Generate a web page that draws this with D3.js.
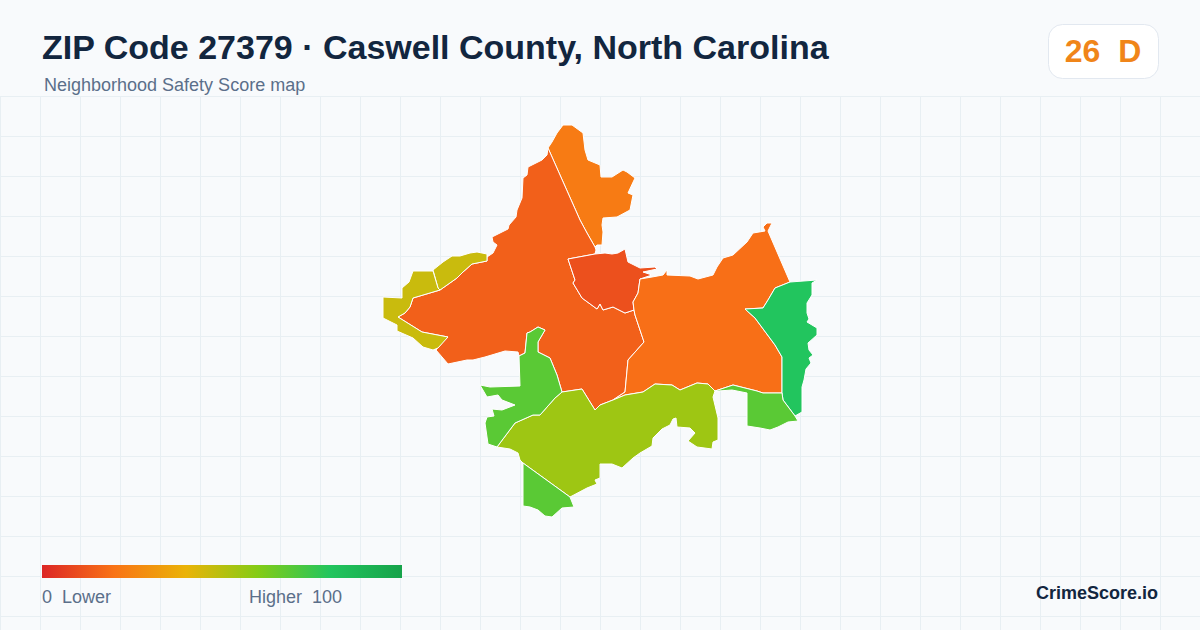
<!DOCTYPE html>
<html>
<head>
<meta charset="utf-8">
<style>
  html, body { margin: 0; padding: 0; background: #f8fafc; }
  svg { display: block; font-family: "Liberation Sans", Arial, sans-serif; }
</style>
<script src="https://cdn.jsdelivr.net/npm/d3@7"></script>
</head>
<body>
<div id="map"></div>
<script>
const titleText = 'ZIP Code 27379 · Caswell County, North Carolina'
const subtitleText = 'Neighborhood Safety Score map'
const overallScore = 26
const overallGrade = 'D'

// legend ramp
const legendStops = [0, 20, 40, 60, 80, 100]
const legendColors = ['#dc2626', '#f97316', '#eab308', '#84cc16', '#22c55e', '#16a34a']

// tract scores, same order as tractRings
const tractScores = [22.5, 15, 11, 19, 80, 68.5, 55, 68.5, 68.5, 46.5, 46.5]

// tract outlines as [lon, lat]
const tractRings = [
  // north
  [[-79.452,36.552],[-79.448,36.558],[-79.443,36.567],[-79.437,36.575],[-79.428,36.575],[-79.417,36.567],[-79.415,36.550],[-79.412,36.540],[-79.400,36.535],[-79.399,36.523],[-79.388,36.523],[-79.377,36.530],[-79.373,36.528],[-79.365,36.522],[-79.372,36.507],[-79.367,36.505],[-79.370,36.490],[-79.383,36.483],[-79.397,36.482],[-79.398,36.475],[-79.397,36.468],[-79.398,36.455],[-79.403,36.455],[-79.405,36.453],[-79.413,36.467],[-79.420,36.480]],
  // main west
  [[-79.452,36.552],[-79.453,36.545],[-79.458,36.540],[-79.472,36.533],[-79.473,36.525],[-79.477,36.522],[-79.478,36.502],[-79.483,36.490],[-79.484,36.483],[-79.491,36.475],[-79.492,36.471],[-79.498,36.468],[-79.508,36.463],[-79.507,36.458],[-79.503,36.455],[-79.507,36.447],[-79.513,36.443],[-79.513,36.439],[-79.528,36.436],[-79.537,36.428],[-79.543,36.422],[-79.560,36.410],[-79.587,36.402],[-79.590,36.393],[-79.595,36.387],[-79.602,36.383],[-79.578,36.368],[-79.552,36.363],[-79.558,36.357],[-79.564,36.350],[-79.552,36.336],[-79.533,36.340],[-79.527,36.340],[-79.515,36.343],[-79.495,36.349],[-79.482,36.348],[-79.481,36.344],[-79.475,36.347],[-79.473,36.367],[-79.470,36.368],[-79.462,36.373],[-79.455,36.370],[-79.462,36.358],[-79.462,36.348],[-79.450,36.342],[-79.443,36.325],[-79.438,36.308],[-79.418,36.311],[-79.405,36.290],[-79.400,36.295],[-79.387,36.300],[-79.375,36.308],[-79.372,36.340],[-79.356,36.358],[-79.365,36.385],[-79.366,36.390],[-79.375,36.387],[-79.387,36.393],[-79.397,36.390],[-79.400,36.396],[-79.403,36.391],[-79.418,36.402],[-79.427,36.417],[-79.425,36.420],[-79.432,36.441],[-79.405,36.446],[-79.404,36.450],[-79.405,36.453],[-79.413,36.467],[-79.420,36.480]],
  // center
  [[-79.432,36.441],[-79.405,36.446],[-79.395,36.447],[-79.388,36.446],[-79.382,36.447],[-79.375,36.451],[-79.372,36.438],[-79.360,36.432],[-79.345,36.433],[-79.343,36.431],[-79.357,36.428],[-79.348,36.425],[-79.360,36.421],[-79.362,36.407],[-79.367,36.398],[-79.366,36.390],[-79.375,36.387],[-79.387,36.393],[-79.397,36.390],[-79.400,36.396],[-79.403,36.391],[-79.418,36.402],[-79.427,36.417],[-79.425,36.420]],
  // east
  [[-79.360,36.421],[-79.348,36.423],[-79.337,36.425],[-79.333,36.430],[-79.333,36.425],[-79.310,36.424],[-79.302,36.421],[-79.287,36.425],[-79.283,36.433],[-79.277,36.442],[-79.267,36.445],[-79.253,36.458],[-79.247,36.467],[-79.235,36.469],[-79.237,36.473],[-79.233,36.477],[-79.228,36.477],[-79.232,36.469],[-79.210,36.418],[-79.225,36.412],[-79.232,36.400],[-79.237,36.392],[-79.255,36.391],[-79.245,36.382],[-79.225,36.355],[-79.218,36.343],[-79.218,36.307],[-79.237,36.307],[-79.243,36.309],[-79.267,36.315],[-79.285,36.309],[-79.292,36.316],[-79.303,36.317],[-79.320,36.310],[-79.328,36.315],[-79.345,36.316],[-79.357,36.308],[-79.375,36.305],[-79.387,36.300],[-79.375,36.308],[-79.372,36.340],[-79.356,36.358],[-79.365,36.385],[-79.366,36.390],[-79.367,36.398],[-79.362,36.407]],
  // far east
  [[-79.255,36.391],[-79.237,36.392],[-79.232,36.400],[-79.225,36.412],[-79.210,36.418],[-79.183,36.420],[-79.188,36.417],[-79.188,36.405],[-79.193,36.397],[-79.193,36.387],[-79.191,36.381],[-79.193,36.378],[-79.183,36.372],[-79.183,36.365],[-79.192,36.357],[-79.191,36.350],[-79.187,36.345],[-79.191,36.342],[-79.189,36.337],[-79.194,36.331],[-79.196,36.320],[-79.198,36.313],[-79.198,36.288],[-79.205,36.284],[-79.217,36.300],[-79.218,36.307],[-79.218,36.343],[-79.225,36.355],[-79.245,36.382]],
  // southeast
  [[-79.285,36.309],[-79.267,36.315],[-79.243,36.309],[-79.237,36.307],[-79.218,36.307],[-79.217,36.300],[-79.205,36.284],[-79.202,36.279],[-79.212,36.278],[-79.222,36.273],[-79.230,36.270],[-79.240,36.272],[-79.253,36.274],[-79.253,36.307],[-79.268,36.310],[-79.282,36.309]],
  // south central
  [[-79.285,36.309],[-79.292,36.316],[-79.303,36.317],[-79.320,36.310],[-79.328,36.315],[-79.345,36.316],[-79.357,36.308],[-79.375,36.305],[-79.387,36.300],[-79.400,36.295],[-79.405,36.290],[-79.418,36.311],[-79.438,36.308],[-79.445,36.302],[-79.460,36.285],[-79.467,36.285],[-79.485,36.277],[-79.503,36.253],[-79.490,36.251],[-79.482,36.247],[-79.480,36.240],[-79.477,36.237],[-79.430,36.203],[-79.413,36.212],[-79.403,36.216],[-79.405,36.220],[-79.400,36.222],[-79.400,36.236],[-79.388,36.236],[-79.378,36.232],[-79.367,36.242],[-79.360,36.247],[-79.348,36.254],[-79.347,36.262],[-79.338,36.271],[-79.330,36.275],[-79.327,36.281],[-79.324,36.282],[-79.323,36.273],[-79.310,36.272],[-79.305,36.267],[-79.312,36.259],[-79.303,36.253],[-79.288,36.251],[-79.287,36.258],[-79.282,36.260],[-79.282,36.282],[-79.287,36.303]],
  // southwest
  [[-79.481,36.344],[-79.475,36.347],[-79.473,36.367],[-79.470,36.368],[-79.462,36.373],[-79.455,36.370],[-79.462,36.358],[-79.462,36.348],[-79.450,36.342],[-79.443,36.325],[-79.438,36.308],[-79.445,36.302],[-79.460,36.285],[-79.467,36.285],[-79.485,36.277],[-79.503,36.253],[-79.512,36.256],[-79.515,36.277],[-79.513,36.283],[-79.506,36.284],[-79.508,36.291],[-79.498,36.290],[-79.485,36.295],[-79.498,36.300],[-79.502,36.305],[-79.513,36.303],[-79.520,36.315],[-79.510,36.313],[-79.480,36.314]],
  // south
  [[-79.477,36.237],[-79.430,36.203],[-79.426,36.193],[-79.438,36.192],[-79.448,36.183],[-79.455,36.184],[-79.462,36.190],[-79.470,36.193],[-79.477,36.194]],
  // northwest upper
  [[-79.513,36.446],[-79.523,36.448],[-79.530,36.447],[-79.540,36.444],[-79.548,36.444],[-79.557,36.438],[-79.567,36.430],[-79.562,36.412],[-79.560,36.410],[-79.543,36.422],[-79.537,36.428],[-79.528,36.436],[-79.513,36.439]],
  // northwest lower
  [[-79.567,36.429],[-79.587,36.429],[-79.591,36.418],[-79.598,36.412],[-79.598,36.402],[-79.617,36.403],[-79.617,36.382],[-79.603,36.375],[-79.603,36.369],[-79.587,36.362],[-79.577,36.353],[-79.567,36.350],[-79.562,36.352],[-79.552,36.363],[-79.578,36.368],[-79.602,36.383],[-79.595,36.387],[-79.590,36.393],[-79.587,36.402],[-79.560,36.410],[-79.562,36.412]]
]

const svgWidth = 1200
const svgHeight = 630

const svg = d3.select('#map')
    .append('svg')
    .attr('width', svgWidth)
    .attr('height', svgHeight)

// scales
const xScale = d3.scaleLinear().domain([-80, -79]).range([0, 1000])
const yScale = d3.scaleLinear().domain([36.7, 35.7]).range([0, 1000])

const colorScale = d3.scaleLinear()
    .domain(legendStops)
    .range(legendColors)
    .interpolate(d3.interpolateRgb)

const legendScale = d3.scaleLinear().domain([0, 100]).range([42, 402])

// background grid
svg.append('g')
    .selectAll('line')
    .data(d3.range(0, svgWidth, 40))
    .join('line')
    .attr('x1', d => d + 0.5)
    .attr('x2', d => d + 0.5)
    .attr('y1', 97)
    .attr('y2', svgHeight)
    .attr('stroke', '#e8eff3')

svg.append('g')
    .selectAll('line')
    .data(d3.range(96.5, svgHeight, 40))
    .join('line')
    .attr('x1', 0)
    .attr('x2', svgWidth)
    .attr('y1', d => d)
    .attr('y2', d => d)
    .attr('stroke', '#e8eff3')

// tracts
const ringPath = d3.line()
    .x(d => xScale(d[0]))
    .y(d => yScale(d[1]))
    .curve(d3.curveLinearClosed)

svg.append('g')
    .selectAll('path')
    .data(tractRings)
    .join('path')
    .attr('d', ringPath)
    .attr('fill', (d, i) => colorScale(tractScores[i]))
    .attr('stroke', '#ffffff')
    .attr('stroke-width', 1)
    .attr('stroke-linejoin', 'round')

// header
svg.append('text')
    .attr('x', 42)
    .attr('y', 59)
    .attr('font-size', 34)
    .attr('font-weight', 700)
    .attr('fill', '#12263f')
    .text(titleText)

svg.append('text')
    .attr('x', 44)
    .attr('y', 91)
    .attr('font-size', 18)
    .attr('fill', '#5b6f8a')
    .text(subtitleText)

// score badge
svg.append('rect')
    .attr('x', 1048.5)
    .attr('y', 24.5)
    .attr('width', 110)
    .attr('height', 54)
    .attr('rx', 14)
    .attr('fill', '#ffffff')
    .attr('stroke', '#e2e8f0')

svg.append('text')
    .attr('x', 1103)
    .attr('y', 62)
    .attr('text-anchor', 'middle')
    .attr('font-size', 32)
    .attr('font-weight', 700)
    .attr('fill', '#f08519')
    .style('white-space', 'pre')
    .text(`${overallScore}  ${overallGrade}`)

// legend
const gradient = svg.append('defs')
    .append('linearGradient')
    .attr('id', 'legendRamp')

gradient.selectAll('stop')
    .data(legendStops)
    .join('stop')
    .attr('offset', d => d + '%')
    .attr('stop-color', d => colorScale(d))

svg.append('rect')
    .attr('x', legendScale(0))
    .attr('y', 565)
    .attr('width', legendScale(100) - legendScale(0))
    .attr('height', 13)
    .attr('fill', 'url(#legendRamp)')

svg.append('text')
    .attr('x', 42)
    .attr('y', 603)
    .attr('font-size', 18)
    .attr('fill', '#5b6f8a')
    .style('white-space', 'pre')
    .text('0  Lower')

svg.append('text')
    .attr('x', 249)
    .attr('y', 603)
    .attr('font-size', 18)
    .attr('fill', '#5b6f8a')
    .style('white-space', 'pre')
    .text('Higher  100')

svg.append('text')
    .attr('x', 1158)
    .attr('y', 599)
    .attr('text-anchor', 'end')
    .attr('font-size', 18)
    .attr('font-weight', 700)
    .attr('fill', '#12263f')
    .text('CrimeScore.io')
</script>
</body>
</html>
